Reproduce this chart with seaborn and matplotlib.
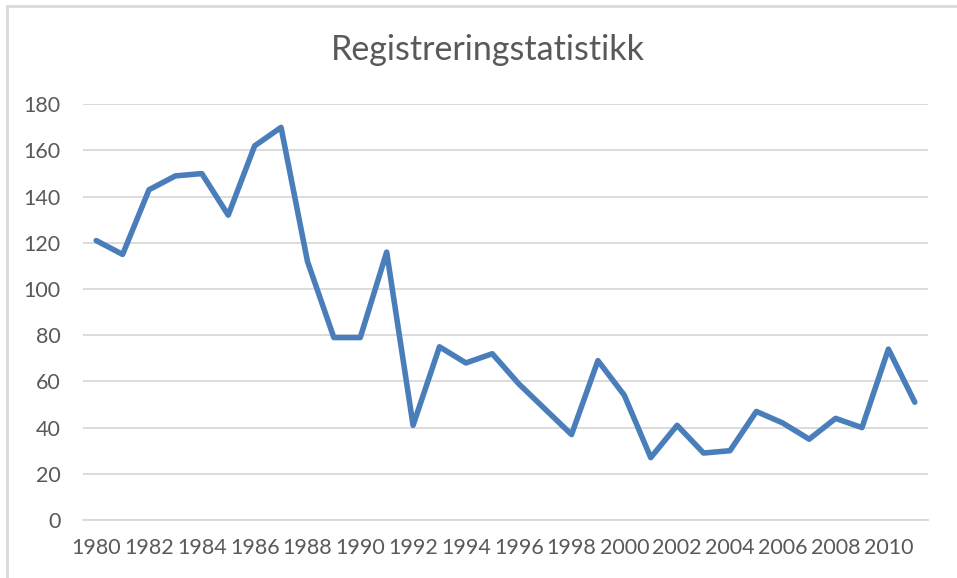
import matplotlib
matplotlib.use("Agg")
import matplotlib.pyplot as plt
import seaborn as sns
import pandas as pd
from matplotlib.lines import Line2D

# data
years = list(range(1980, 2012))
values = [121, 115, 143, 149, 150, 132, 162, 170, 112, 79, 79, 116, 41, 75, 68, 72,
          59, 48, 37, 69, 54, 27, 41, 29, 30, 47, 42, 35, 44, 40, 74, 51]
tick_years = list(range(1980, 2011, 2))
y_ticks = list(range(0, 181, 20))

df = pd.DataFrame({"year": years, "antall": values})

sns.set_style("white")
plt.rcParams["font.family"] = ["Lato", "DejaVu Sans"]

fig = plt.figure(figsize=(9.57, 5.78), dpi=100)
ax = fig.add_axes([83 / 957, 58 / 578, 845 / 957, (520 - 104.3) / 578])

sns.lineplot(data=df, x="year", y="antall", ax=ax, color="#4a7ebb", linewidth=4,
             solid_joinstyle="round", solid_capstyle="round")

ax.set_xlim(years[0] - 0.5, years[-1] + 0.5)
ax.set_ylim(0, 180)
ax.set_yticks(y_ticks)
ax.set_xticks(tick_years)
ax.set_xticklabels([str(y) for y in tick_years])
ax.yaxis.grid(True, color="#d9d9d9", linewidth=1.3)
ax.set_axisbelow(True)
for s in ax.spines.values():
    s.set_visible(False)
ax.spines["bottom"].set_visible(True)
ax.spines["bottom"].set_color("#d9d9d9")
ax.spines["bottom"].set_linewidth(1.3)
ax.tick_params(axis="both", length=0, labelsize=15.5, labelcolor="#595959")
ax.tick_params(axis="x", pad=13)
ax.tick_params(axis="y", pad=16)
ax.set_xlabel("")
ax.set_ylabel("")

fig.text(488 / 957, 1 - 50 / 578, "Registreringstatistikk", ha="center", va="center",
         fontsize=24.5, color="#595959")

# light frame around the chart area
fig.add_artist(Line2D([6.5 / 957, 6.5 / 957], [0, 1 - 6 / 578], transform=fig.transFigure,
                      color="#d9d9d9", linewidth=2))
fig.add_artist(Line2D([6.5 / 957, 1], [1 - 6 / 578, 1 - 6 / 578], transform=fig.transFigure,
                      color="#d9d9d9", linewidth=2))

fig.savefig("out.png", dpi=100)
